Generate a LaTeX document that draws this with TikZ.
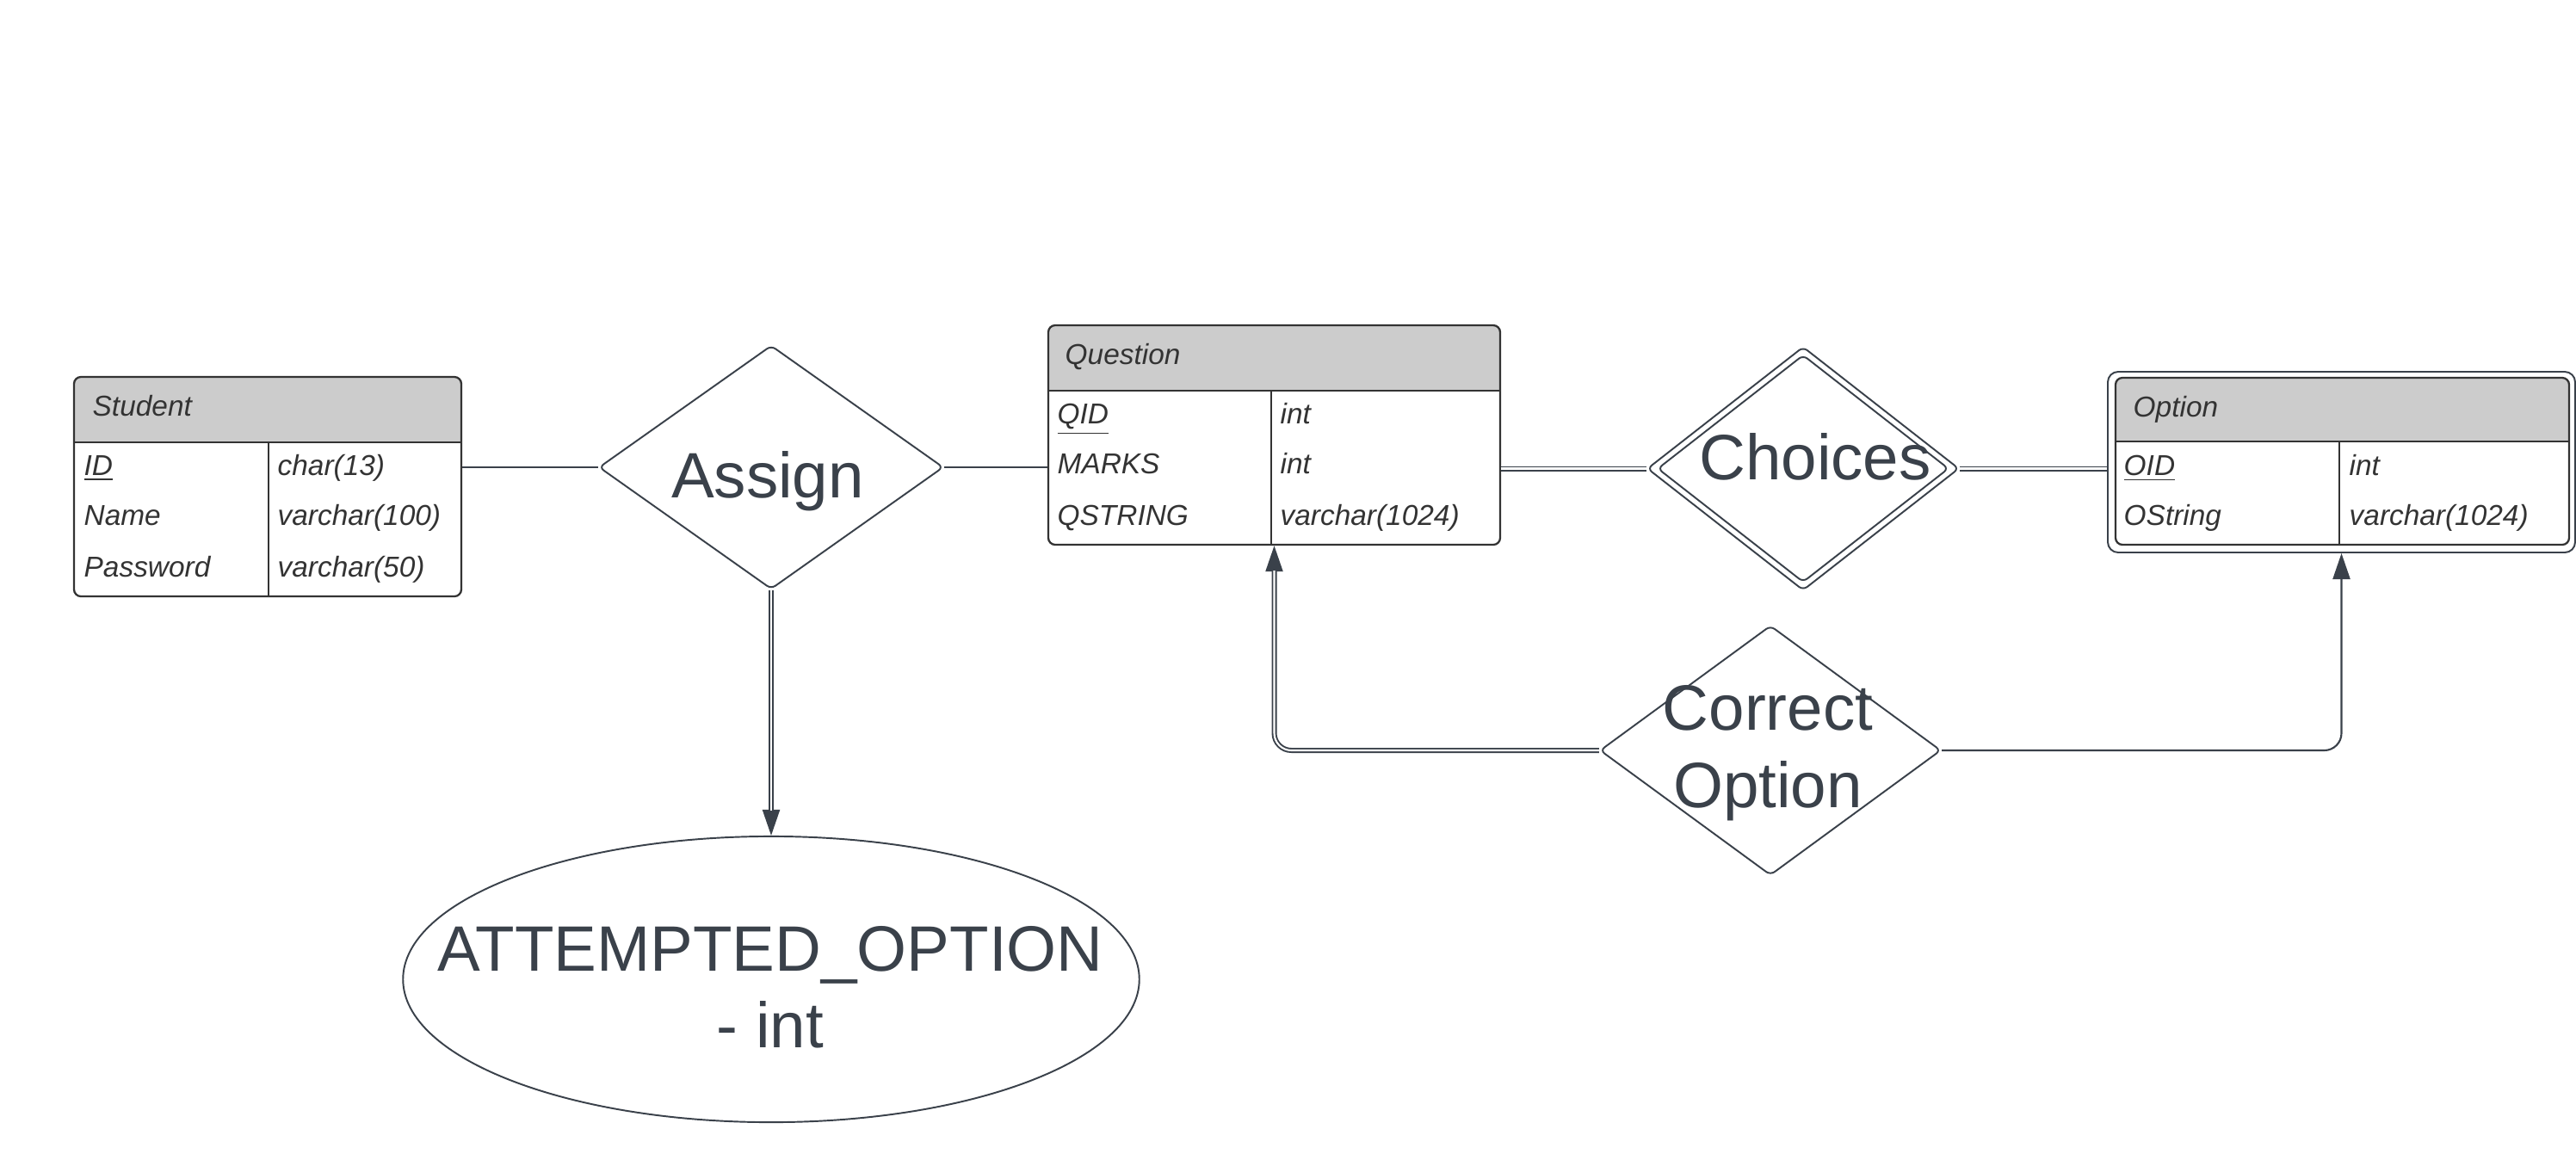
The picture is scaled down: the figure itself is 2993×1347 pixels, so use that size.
\documentclass[tikz,border=0pt]{standalone}
\usepackage{fontspec}
\setmainfont{Liberation Sans}
\usetikzlibrary{shapes.geometric,arrows.meta,fit,calc}
\definecolor{ln}{HTML}{3A414A}
\definecolor{tx}{HTML}{333333}
\definecolor{hdr}{HTML}{CCCCCC}
\tikzset{
  tbl/.style={draw=tx, line width=0.65pt, rounded corners=0.08cm, inner sep=0pt},
  tblline/.style={draw=tx, line width=0.65pt},
  small/.style={font=\fontsize{9.5pt}{11pt}\selectfont\itshape, text=tx, inner sep=0pt, anchor=base west},
  big/.style={font=\fontsize{21.2pt}{25pt}\selectfont, text=ln, inner sep=0pt, anchor=base},
  rel/.style={diamond, draw=ln, line width=0.55pt, rounded corners=0.06cm, inner sep=0pt},
  conn/.style={draw=ln, line width=0.6pt},
  dbl/.style={draw=ln, line width=0.55pt, double=white, double distance=0.6pt},
  tip/.style={draw=ln, line width=0.6pt, -{Triangle[length=0.3cm, width=0.2cm]}},
}
% name, left, top, right, header bottom, bottom, column divider
\newcommand\ertab[7]{%
  \begin{scope}
    \clip (#2-5,#3-5) rectangle (#4+5,#5);
    \fill[hdr, rounded corners=0.08cm] (#2,#3) rectangle (#4,#6);
  \end{scope}
  \node[tbl, fit={(#2,#3) (#4,#6)}] (#1) {};
  \draw[tblline] (#2,#5) -- (#4,#5);
  \draw[tblline] (#7,#5) -- (#7,#6);
}
\begin{document}
\begin{tikzpicture}[x=0.01cm, y=-0.01cm]
\fill[white] (0,0) rectangle (2993,1347);
\useasboundingbox (0,0) rectangle (2993,1347);

% Student
\ertab{student}{86}{438}{536}{514}{693}{312}
\node[small] (sh) at (107,483) {Student};
\node[small] (s1a) at (97,552) {\underline{ID}};
\node[small] (s1b) at (322,552) {char(13)};
\node[small] (s2a) at (97,610) {Name};
\node[small] (s2b) at (322,610) {varchar(100)};
\node[small] (s3a) at (97,670) {Password};
\node[small] (s3b) at (322,670) {varchar(50)};

% Question
\ertab{q}{1218}{378}{1743}{454}{633}{1477}
\node[small] (qh) at (1237,423) {Question};
\node[small] (q1a) at (1228,492) {\underline{QID}};
\node[small] (q1b) at (1487,492) {int};
\node[small] (q2a) at (1228,550) {MARKS};
\node[small] (q2b) at (1487,550) {int};
\node[small] (q3a) at (1228,610) {QSTRING};
\node[small] (q3b) at (1487,610) {varchar(1024)};

% Option (weak entity, double border)
\ertab{optin}{2458}{439}{2985}{513}{633}{2718}
\node[draw=ln, line width=0.55pt, rounded corners=0.12cm, inner sep=0pt, fit={(2449,432) (2992,642)}] (option) {};
\node[small] (oh) at (2478,484) {Option};
\node[small] (o1a) at (2467,552) {\underline{OID}};
\node[small] (o1b) at (2729,552) {int};
\node[small] (o2a) at (2467,610) {OString};
\node[small] (o2b) at (2729,610) {varchar(1024)};

% Relationships
\node[rel, minimum width=4cm, minimum height=2.83cm] (assign) at (896,543) {};
\node[big] (ta) at (892,578) {Assign};

\node[rel, minimum width=3.62cm, minimum height=2.83cm] (choices) at (2095,544.5) {};
\node[rel, minimum width=3.38cm, minimum height=2.64cm] (choicesin) at (2095,544.5) {};
\node[big] (tc) at (2109,557) {Choices};

\node[rel, minimum width=3.96cm, minimum height=2.90cm] (cor) at (2057,872) {};
\node[big] (tco1) at (2054,848) {Correct};
\node[big] (tco2) at (2054,938) {Option};

% Attribute
\node[ellipse, draw=ln, line width=0.55pt, minimum width=8.55cm, minimum height=3.32cm, inner sep=0pt] (att) at (896,1138) {};
\node[big] (tat1) at (895,1128) {ATTEMPTED\_OPTION};
\node[big] (tat2) at (895,1217) {- int};

% Connectors
\draw[conn] (assign.west -| student.east) -- (assign.west);
\draw[conn] (assign.east) -- (assign.east -| q.west);
\draw[dbl] (choices.west -| q.east) -- (choices.west);
\draw[dbl] (choices.east) -- (choices.east -| option.west);

\draw[tip] (assign.south) -- (att.north);
\draw[dbl, shorten >=0.29cm] (assign.south) -- (att.north);

\draw[tip, rounded corners=0.2cm] (cor.west) -| (q.south);
\draw[dbl, rounded corners=0.2cm, shorten >=0.29cm] (cor.west) -| (q.south);

\draw[tip, rounded corners=0.2cm] (cor.east) -| (option.south);
\end{tikzpicture}
\end{document}
